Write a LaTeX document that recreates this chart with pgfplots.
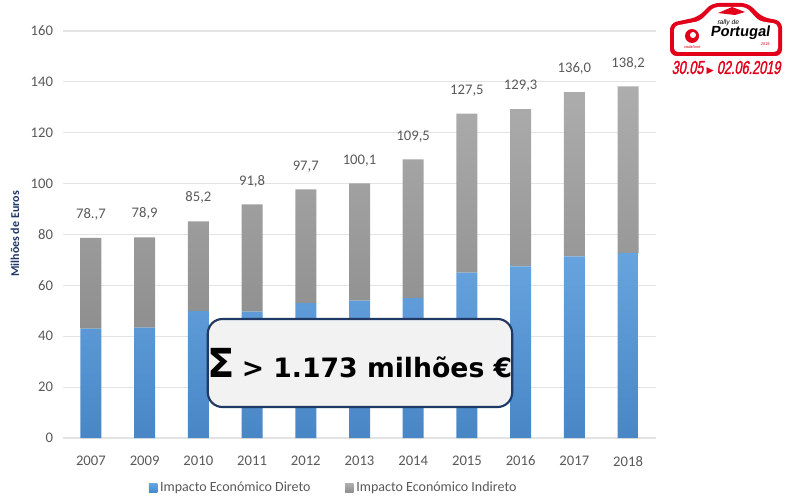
\documentclass[border=0pt]{standalone}
\usepackage{pgfplots}
\pgfplotsset{compat=1.18}
\usepackage{fontspec}
\setmainfont{Carlito}
\newfontfamily\boxfont{DejaVu Sans}
\newfontfamily\symfont{DejaVu Sans}
\newfontfamily\datefont[FakeStretch=0.68,FakeSlant=0.18,FakeBold=1.5]{Liberation Sans}
\newfontfamily\logofont[FakeSlant=0.15]{Liberation Sans}
\definecolor{tick}{HTML}{595959}
\definecolor{gridc}{HTML}{E3E3E3}
\definecolor{blueT}{HTML}{67A4DF}
\definecolor{blueB}{HTML}{4886C6}
\definecolor{grayT}{HTML}{ADADAD}
\definecolor{grayB}{HTML}{8F8F8F}
\definecolor{navy}{HTML}{1F3864}
\definecolor{rallyred}{HTML}{E2001A}
\begin{document}
\begin{tikzpicture}[x=0.75pt,y=0.75pt]
\path[use as bounding box] (0,0) rectangle (785,497);
\begin{axis}[
  at={(47.25pt,44.25pt)}, anchor=south west,
  scale only axis, width=444.75pt, height=305.25pt,
  ybar stacked, bar width=15.75pt,
  ymin=0, ymax=160, xmin=-0.52, xmax=10.52,
  ytick={0,20,...,160},
  xtick={0,...,10},
  xticklabels={2007,2009,2010,2011,2012,2013,2014,2015,2016,2017,2018},
  axis line style={draw=none},
  major tick length=0pt,
  ymajorgrids, grid style={color=gridc, line width=0.9pt},
  /pgf/number format/assume math mode=true,
  tick label style={font=\fontsize{11}{13}\selectfont, text=tick},
  y tick label style={xshift=-4pt},
  x tick label style={yshift=-10pt},
  legend style={draw=none, at={(0.457,-0.123)}, anchor=center,
    font=\fontsize{10.5}{12}\selectfont, text=tick,
    legend columns=2,
    /tikz/every even column/.append style={column sep=24pt}},
  legend image code/.code={\fill[#1, draw=none] (0pt,-3.2pt) rectangle (6.4pt,3.2pt);},
]
\addplot[draw=none, top color=blueT, bottom color=blueB] coordinates {
  (0,43.0) (1,43.4) (2,50.0) (3,49.7) (4,53.0) (5,54.0) (6,55.0) (7,65.0) (8,67.5) (9,71.4) (10,72.8)};
\addlegendentry{Impacto Económico Direto}
\addplot[draw=none, top color=grayT, bottom color=grayB] coordinates {
  (0,35.7) (1,35.5) (2,35.2) (3,42.1) (4,44.7) (5,46.1) (6,54.5) (7,62.5) (8,61.8) (9,64.6) (10,65.4)};
\addlegendentry{Impacto Económico Indireto}
\addplot[draw=none, fill=none, forget plot,
  point meta=explicit symbolic,
  nodes near coords,
  every node near coord/.style={anchor=base, yshift=14.5pt, inner sep=0pt,
    font=\fontsize{11}{13}\selectfont, text=tick}] coordinates {
  (0,0.001) [78.,7]
  (1,0.001) [78,9]
  (2,0.001) [85,2]
  (3,0.001) [91,8]
  (4,0.001) [97,7]
  (5,0.001) [100,1]
  (6,0.001) [109,5]
  (7,0.001) [127,5]
  (8,0.001) [129,3]
  (9,0.001) [136,0]
  (10,0.001) [138,2]};
\end{axis}
% y label
\node[rotate=90, font=\fontsize{9}{10}\selectfont\bfseries, text=navy] at (15,263) {Milhões de Euros};
% summary box
\node[draw=navy, line width=1.6pt, rounded corners=11pt, fill=black!5,
  minimum width=227pt, minimum height=66pt, inner sep=0pt] at (360,134)
  {\boxfont\bfseries{\fontsize{30}{30}\selectfont Σ}\hspace{5pt}{\fontsize{20}{20}\selectfont > 1.173 milhões €}};
% logo
\fill[rallyred, rounded corners=5pt]
  (670,441) -- (670,474) -- (698,480) -- (712,494) -- (748,494) -- (762,480) -- (782,476) -- (782,441) -- cycle;
\fill[white, rounded corners=3pt]
  (674,445) -- (674,471) -- (700,476) -- (714,490) -- (746,490) -- (759,476) -- (778,473) -- (778,445) -- cycle;
\fill[rallyred] (692,461) circle (7);
\fill[white] (693,462) circle (3);
\node[font=\logofont\fontsize{3}{3}\selectfont, text=rallyred] at (692,450) {vodafone};
\node[font=\logofont\fontsize{5}{5}\selectfont, text=black] at (728,474) {rally de};
\node[font=\logofont\bfseries\fontsize{11}{11}\selectfont, text=black] at (740,464) {Portugal};
\node[font=\logofont\fontsize{3}{3}\selectfont, text=rallyred] at (765,453) {2019};
\fill[rallyred] (718,484) -- (732,490) -- (745,485) -- (735,482) -- cycle;
\node[font=\datefont\fontsize{14}{14}\selectfont, text=rallyred, inner sep=0pt] at (726,429)
  {30.05\,{\symfont\fontsize{7}{7}\selectfont ▶}\,02.06.2019};
\end{tikzpicture}
\end{document}
